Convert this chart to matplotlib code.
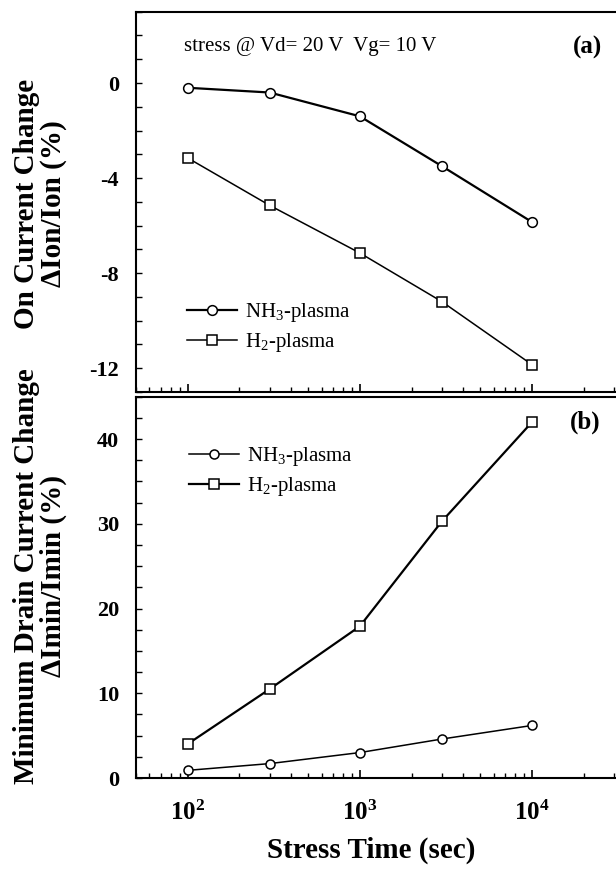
import numpy as np
import matplotlib
matplotlib.use('Agg')
import matplotlib.pyplot as plt
from matplotlib.ticker import LogLocator, MultipleLocator, FixedLocator, NullFormatter

plt.rcParams['font.family'] = ['Liberation Serif', 'DejaVu Serif']
plt.rcParams['mathtext.fontset'] = 'custom'
plt.rcParams['mathtext.rm'] = 'Liberation Serif'
plt.rcParams['mathtext.it'] = 'Liberation Serif:italic'
plt.rcParams['mathtext.bf'] = 'Liberation Serif:bold'
plt.rcParams['axes.unicode_minus'] = False

# data
stress_time = [100, 300, 1000, 3000, 10000]
ion_nh3 = [-0.2, -0.4, -1.4, -3.5, -5.85]
ion_h2 = [-3.15, -5.15, -7.15, -9.2, -11.85]
imin_nh3 = [0.9, 1.7, 3.0, 4.6, 6.2]
imin_h2 = [4.0, 10.5, 17.9, 30.3, 42.0]

xticks = [100, 1000, 10000]
xticklabels = [r'$\mathbf{10^{2}}$', r'$\mathbf{10^{3}}$', r'$\mathbf{10^{4}}$']

W, H = 616, 871
fig = plt.figure(figsize=(W / 100, H / 100), dpi=100)

def fpos(left, top, right, bottom):
    return [left / W, 1 - bottom / H, (right - left) / W, (bottom - top) / H]

ax1 = fig.add_axes(fpos(135.7, 11.7, 619, 392))
ax2 = fig.add_axes(fpos(135.7, 396.7, 619, 778))

for ax in (ax1, ax2):
    ax.set_xscale('log')
    ax.set_xlim(50, 3.2e4)
    for s in ax.spines.values():
        s.set_linewidth(1.5)
    ax.xaxis.set_major_locator(FixedLocator(xticks))
    ax.xaxis.set_minor_locator(LogLocator(base=10, subs=np.arange(2, 10)))
    ax.xaxis.set_minor_formatter(NullFormatter())
    ax.tick_params(axis='x', which='major', direction='in', length=6, width=1.2, top=False)
    ax.tick_params(axis='x', which='minor', direction='in', length=3.5, width=1.0, top=False)
    ax.tick_params(axis='y', which='both', direction='in', length=4.5, width=1.0, right=False)
    ax.tick_params(axis='y', which='major', labelsize=16, pad=12)

# panel (a)
ax1.plot(stress_time, ion_nh3, color='black', lw=1.6, marker='o', ms=7,
         mfc='white', mec='black', mew=1.1, label=r'NH$_3$-plasma')
ax1.plot(stress_time, ion_h2, color='black', lw=1.1, marker='s', ms=7.5,
         mfc='white', mec='black', mew=1.1, label=r'H$_2$-plasma')
ax1.set_ylim(-13, 3)
ax1.yaxis.set_major_locator(FixedLocator([0, -4, -8, -12]))
ax1.yaxis.set_minor_locator(MultipleLocator(1))
ax1.set_xticklabels([])
for lab in ax1.get_yticklabels():
    lab.set_fontweight('bold')

# panel (b)
ax2.plot(stress_time, imin_nh3, color='black', lw=1.1, marker='o', ms=6.5,
         mfc='white', mec='black', mew=1.1, label=r'NH$_3$-plasma')
ax2.plot(stress_time, imin_h2, color='black', lw=1.6, marker='s', ms=7.5,
         mfc='white', mec='black', mew=1.1, label=r'H$_2$-plasma')
ax2.set_ylim(0, 45)
ax2.yaxis.set_major_locator(FixedLocator([0, 10, 20, 30, 40]))
ax2.yaxis.set_minor_locator(MultipleLocator(2.5))
ax2.set_xticklabels(xticklabels, fontsize=18)
ax2.tick_params(axis='x', which='major', pad=16)
for lab in ax2.get_yticklabels():
    lab.set_fontweight('bold')

leg_kw = dict(loc='upper left', frameon=False, fontsize=15, handlelength=2.4,
              handletextpad=0.4, labelspacing=0.35, borderpad=0, borderaxespad=0,
              bbox_transform=fig.transFigure)
ax1.legend(bbox_to_anchor=(187 / W, 1 - 301 / H), **leg_kw)
ax2.legend(bbox_to_anchor=(189 / W, 1 - 445 / H), **leg_kw)

fig.text(184 / W, 1 - 47 / H, 'stress @ Vd= 20 V  Vg= 10 V', fontsize=15,
         ha='left', va='center')
fig.text(587 / W, 1 - 47 / H, '(a)', fontsize=18, fontweight='bold',
         ha='center', va='center')
fig.text(585 / W, 1 - 422 / H, '(b)', fontsize=18, fontweight='bold',
         ha='center', va='center')

fig.text(40 / W, 1 - 204 / H, 'On Current Change\n\u0394Ion/Ion (%)', fontsize=21,
         fontweight='bold', rotation=90, ha='center', va='center',
         multialignment='center', linespacing=1.0)
fig.text(40 / W, 1 - 576 / H, 'Minimum Drain Current Change\n\u0394Imin/Imin (%)',
         fontsize=21, fontweight='bold', rotation=90, ha='center', va='center',
         multialignment='center', linespacing=1.0)
fig.text(371 / W, 1 - 850 / H, 'Stress Time (sec)', fontsize=21, fontweight='bold',
         ha='center', va='center')

fig.savefig('out.png', dpi=100)
